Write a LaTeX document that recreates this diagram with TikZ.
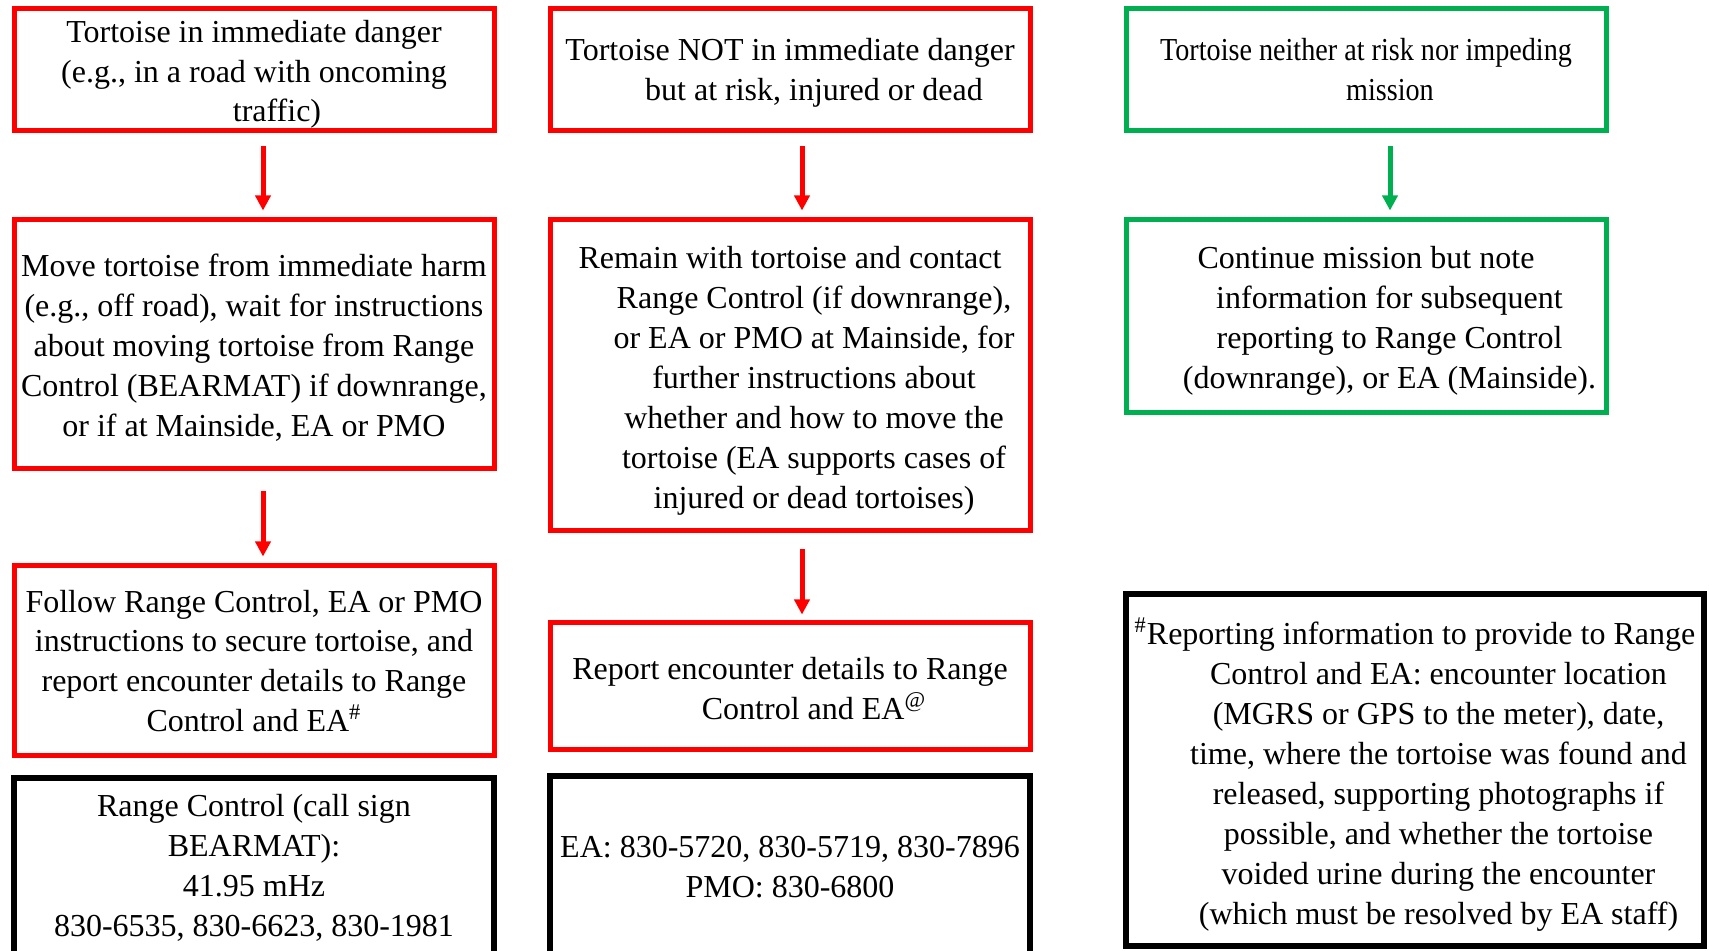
\documentclass[tikz,border=0pt]{standalone}
\usepackage{fontspec}
\setmainfont{Liberation Serif}
\usepackage{graphicx}
\usetikzlibrary{arrows.meta}
\definecolor{boxred}{RGB}{255,0,0}
\definecolor{boxgreen}{RGB}{0,176,80}
\begin{document}
\begin{tikzpicture}[x=0.5pt,y=-0.5pt,
  box/.style={draw, rectangle, inner sep=0pt, minimum width=240pt},
  redbox/.style={box, draw=boxred, line width=2.5pt},
  greenbox/.style={box, draw=boxgreen, line width=2.5pt},
  blackbox/.style={box, draw=black, line width=2.75pt},
  txt/.style={inner sep=0pt, align=center, text=black,
    font=\fontsize{16pt}{19.95pt}\selectfont},
  tipstyle/.style={-{Triangle[width=7.5pt,length=7.5pt]}, line width=2.5pt},
  redarrow/.style={tipstyle, draw=boxred},
  greenarrow/.style={tipstyle, draw=boxgreen}]
\useasboundingbox (0,0) rectangle (1709,951);

% boxes
\node[redbox, minimum height=61pt] (A1) at (254,70) {};
\node[redbox, minimum height=124.5pt] (A2) at (254,344.5) {};
\node[redbox, minimum height=95pt] (A3) at (254,661) {};
\node[blackbox, minimum height=90pt] (A4) at (254,868) {};
\node[redbox, minimum height=61pt] (B1) at (790,70) {};
\node[redbox, minimum height=155.5pt] (B2) at (790,375.5) {};
\node[redbox, minimum height=63.5pt] (B3) at (790,686.5) {};
\node[blackbox, minimum height=91pt] (B4) at (790,867) {};
\node[greenbox, minimum height=61pt] (C1) at (1366,70) {};
\node[greenbox, minimum height=96.5pt] (C2) at (1366,316.5) {};
\node[blackbox, minimum width=289pt, minimum height=176pt] (C3) at (1415,770) {};

% texts
\node[txt] (A1t) at ([yshift=-2.2pt]A1.center)
  {Tortoise in immediate danger\\(e.g., in a road with oncoming\\\hspace*{23pt}traffic)};
\node[txt] (A2t) at ([yshift=-1.7pt]A2.center)
  {Move tortoise from immediate harm\\(e.g., off road), wait for instructions\\about moving tortoise from Range\\Control (BEARMAT) if downrange,\\or if at Mainside, EA or PMO};
\node[txt] (A3t) at (A3.center)
  {Follow Range Control, EA or PMO\\instructions to secure tortoise, and\\report encounter details to Range\\Control and EA\textsuperscript{\#}};
\node[txt] (A4t) at (A4.center)
  {Range Control (call sign\\BEARMAT):\\41.95 mHz\\830-6535, 830-6623, 830-1981};
\node[txt] (B1t) at ([yshift=-1.2pt]B1.center)
  {Tortoise NOT in immediate danger\\\hspace*{24pt}but at risk, injured or dead};
\node[txt] (B2t) at ([yshift=-2.6pt]B2.center)
  {Remain with tortoise and contact\\\hspace*{24pt}Range Control (if downrange),\\\hspace*{24pt}or EA or PMO at Mainside, for\\\hspace*{24pt}further instructions about\\\hspace*{24pt}whether and how to move the\\\hspace*{24pt}tortoise (EA supports cases of\\\hspace*{24pt}injured or dead tortoises)};
\node[txt] (B3t) at ([yshift=-1.1pt]B3.center)
  {Report encounter details to Range\\\hspace*{24pt}Control and EA\textsuperscript{@}};
\node[txt] (B4t) at (B4.center)
  {EA: 830-5720, 830-5719, 830-7896\\PMO: 830-6800};
\node[txt] (C1t) at (C1.center)
  {\scalebox{0.88}[1]{Tortoise neither at risk nor impeding}\\\hspace*{24pt}\scalebox{0.88}[1]{mission}};
\node[txt] (C2t) at ([yshift=-2.2pt]C2.center)
  {Continue mission but note\\\hspace*{23.5pt}information for subsequent\\\hspace*{23.5pt}reporting to Range Control\\\hspace*{23.5pt}(downrange), or EA (Mainside).};
\node[txt] (C3t) at ([yshift=-2.2pt]C3.center)
  {\textsuperscript{\#}Reporting information to provide to Range\\\hspace*{23.5pt}Control and EA: encounter location\\\hspace*{23.5pt}(MGRS or GPS to the meter), date,\\\hspace*{23.5pt}time, where the tortoise was found and\\\hspace*{23.5pt}released, supporting photographs if\\\hspace*{23.5pt}possible, and whether the tortoise\\\hspace*{23.5pt}voided urine during the encounter\\\hspace*{23.5pt}(which must be resolved by EA staff)};

% arrows
\draw[redarrow] ([xshift=4.5pt,yshift=-6.5pt]A1.south) -- ([xshift=4.5pt,yshift=3.5pt]A2.north);
\draw[redarrow] ([xshift=4.5pt,yshift=-10pt]A2.south) -- ([xshift=4.5pt,yshift=3.5pt]A3.north);
\draw[redarrow] ([xshift=6pt,yshift=-6.5pt]B1.south) -- ([xshift=6pt,yshift=3.5pt]B2.north);
\draw[redarrow] ([xshift=6pt,yshift=-8pt]B2.south) -- ([xshift=6pt,yshift=3pt]B3.north);
\draw[greenarrow] ([xshift=12pt,yshift=-6.5pt]C1.south) -- ([xshift=12pt,yshift=3.5pt]C2.north);
\end{tikzpicture}
\end{document}
